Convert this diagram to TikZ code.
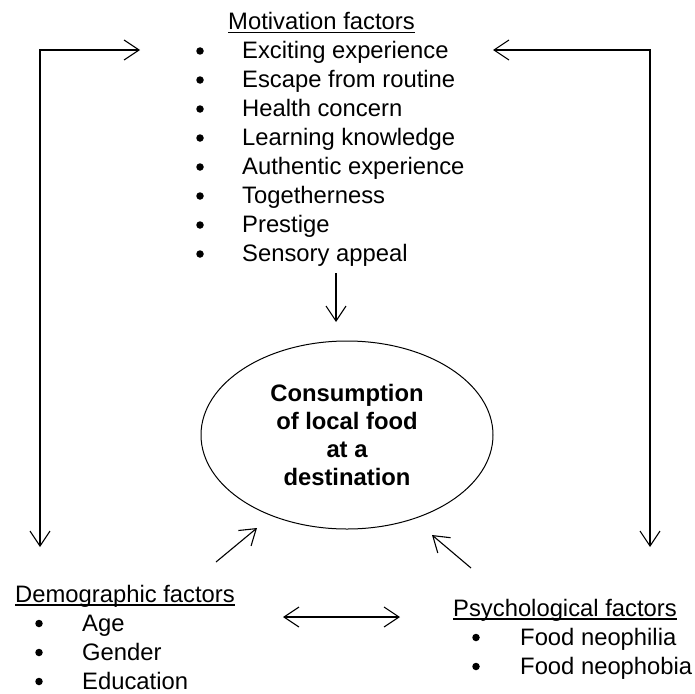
\documentclass[tikz,border=0pt]{standalone}
\usepackage{fontspec}
\setmainfont{Liberation Sans}
\usetikzlibrary{arrows.meta,calc,shapes.geometric}
\begin{document}
\begin{tikzpicture}[x=1pt,y=-1pt,
  txt/.style={anchor=base west,inner sep=0pt,font=\fontsize{23.8}{28}\selectfont},
  barb/.tip={Straight Barb[length=15pt,width=20pt,line width=1.1pt]},
  conn/.style={line width=1.1pt,-barb},
  twoway/.style={line width=1.1pt,barb-barb},
  dot/.style={circle,fill,inner sep=0pt,minimum size=7.5pt},
  uline/.style={line width=1.3pt}]
\useasboundingbox (0,0) rectangle (695,693);

% Motivation factors list
\node[txt] (mhead) at (228,29.5) {Motivation factors};
\draw[uline] ($(mhead.base west)+(0,3)$) -- ($(mhead.base east)+(0,3)$);
\foreach \t [count=\i] in {Exciting experience,Escape from routine,Health concern,
  Learning knowledge,Authentic experience,Togetherness,Prestige,Sensory appeal}{
  \node[txt] (m\i) at (242,29.5+29*\i) {\t};
  \node[dot] (mb\i) at (200,22+29*\i) {};
}

% Central construct
\node[ellipse,draw,line width=1pt,minimum width=292pt,minimum height=188pt,inner sep=0pt,
  align=center,font=\bfseries\fontsize{23.8}{28}\selectfont] (ell) at (347,435)
  {Consumption\\of local food\\at a\\destination};

% Demographic factors list
\node[txt] (dhead) at (15,602) {Demographic factors};
\draw[uline] ($(dhead.base west)+(0,3)$) -- ($(dhead.base east)+(0,3)$);
\foreach \t [count=\i] in {Age,Gender,Education}{
  \node[txt] (d\i) at (82,602+29*\i) {\t};
  \node[dot] (db\i) at (39,594.5+29*\i) {};
}

% Psychological factors list
\node[txt] (phead) at (453,616) {Psychological factors};
\draw[uline] ($(phead.base west)+(0,3)$) -- ($(phead.base east)+(0,3)$);
\foreach \t [count=\i] in {Food neophilia,Food neophobia}{
  \node[txt] (p\i) at (520,616+29*\i) {\t};
  \node[dot] (pb\i) at (476,608.5+29*\i) {};
}

% Connector end points
\coordinate (mL) at (140,50);
\coordinate (mR) at (493,50);
\coordinate (dTop) at (40,547);
\coordinate (pTop) at (650,547);
\coordinate (mOut) at (336,273);
\coordinate (eIn) at (336,322);
\coordinate (dOut) at (216,562);
\coordinate (eInD) at (257,528);
\coordinate (pOut) at (471,568);
\coordinate (eInP) at (432,535);
\coordinate (dpL) at (283,617);
\coordinate (dpR) at (400,617);

% Connectors
\draw[twoway] (mL) -| (dTop);
\draw[twoway] (mR) -| (pTop);
\draw[conn] (mOut) -- (eIn);
\draw[conn] (dOut) -- (eInD);
\draw[conn] (pOut) -- (eInP);
\draw[twoway] (dpL) -- (dpR);
\end{tikzpicture}
\end{document}
